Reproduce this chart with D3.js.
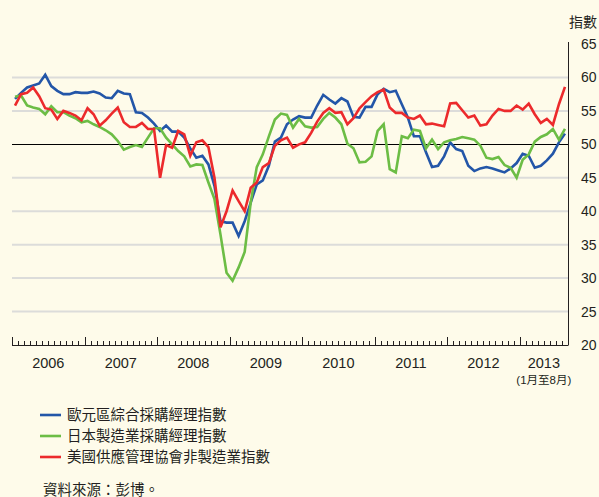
<!DOCTYPE html>
<html>
<head>
<meta charset="utf-8">
<script src="https://cdn.jsdelivr.net/npm/d3@7/dist/d3.min.js"></script>
<style>
  html, body { margin: 0; padding: 0; background: #fefbea; }
  svg { display: block; font-family: "Liberation Sans", Arial, "Noto Sans CJK TC", sans-serif; }
  .cjk { font-family: "Liberation Sans", "Noto Sans CJK TC", sans-serif; }
</style>
</head>
<body>
<svg id="chart" width="599" height="497"></svg>
<script>
// monthly, Jan 2006 - Aug 2013
var years = ["2006", "2007", "2008", "2009", "2010", "2011", "2012", "2013"];
var yTicks = [20, 25, 30, 35, 40, 45, 50, 55, 60, 65];

var euroPmi = [
	56.8, 57.7, 58.5, 58.8, 59.1, 60.4, 58.7, 58.0, 57.5, 57.5, 57.8, 57.7,
	57.7, 57.9, 57.6, 57.0, 56.9, 58.0, 57.6, 57.5, 54.8, 54.7, 54.0, 53.1,
	52.0, 52.8, 51.9, 51.9, 51.0, 49.4, 48.0, 48.3, 47.0, 43.8, 38.5, 38.3,
	38.3, 36.3, 38.5, 41.3, 44.0, 44.6, 46.8, 50.4, 51.0, 53.0, 53.7, 54.2,
	54.0, 54.0, 55.8, 57.4, 56.7, 56.1, 56.9, 56.4, 54.1, 54.0, 55.6, 55.6,
	57.5, 58.3, 57.8, 58.0, 56.0, 54.0, 51.2, 51.2, 48.8, 46.6, 46.8, 48.2,
	50.3, 49.3, 49.0, 46.8, 46.0, 46.4, 46.6, 46.4, 46.1, 45.8, 46.4, 47.2,
	48.6, 48.3, 46.5, 46.8, 47.6, 48.6, 50.3, 51.6
];
var japanPmi = [
	57.1, 57.3, 55.8, 55.5, 55.3, 54.5, 55.7, 54.8, 54.8, 54.3, 53.9, 53.3,
	53.5, 53.0, 52.6, 52.1, 51.5, 50.5, 49.2, 49.6, 49.9, 49.6, 51.0, 52.4,
	52.4, 51.0, 50.0, 49.0, 48.2, 46.7, 47.0, 46.9, 44.3, 41.8, 36.5, 30.8,
	29.6, 31.6, 33.9, 41.3, 46.6, 48.5, 51.2, 53.7, 54.6, 54.4, 52.5, 53.8,
	52.7, 52.5, 52.6, 53.8, 54.7, 54.0, 53.0, 50.1, 49.4, 47.3, 47.4, 48.2,
	52.0, 53.0, 46.3, 45.8, 51.2, 50.9, 52.2, 52.0, 49.4, 50.7, 49.3, 50.3,
	50.6, 50.8, 51.1, 50.9, 50.7, 49.8, 48.0, 47.8, 48.1, 46.9, 46.5, 45.0,
	47.7, 48.5, 50.4, 51.1, 51.5, 52.3, 50.7, 52.3
];
var usIsmNonMfg = [
	55.8, 57.5, 57.7, 58.5, 57.2, 55.4, 55.2, 53.8, 55.0, 54.7, 54.3, 53.6,
	55.4, 54.5, 52.8, 53.6, 54.6, 55.5, 53.3, 52.6, 52.6, 53.2, 52.3, 52.3,
	45.0, 49.9, 49.5, 52.0, 51.5, 48.3, 50.3, 50.6, 49.6, 45.0, 37.6, 40.0,
	43.1, 41.5, 40.0, 43.5, 44.3, 46.6, 47.2, 49.8, 50.6, 51.0, 49.5, 50.0,
	50.3, 51.7, 53.4, 54.7, 55.4, 54.7, 54.8, 53.0, 53.9, 55.4, 56.3, 57.2,
	57.8, 58.2, 55.5, 54.7, 54.7, 54.0, 53.8, 54.3, 53.0, 53.1, 52.9, 52.7,
	56.1, 56.2, 55.1, 54.0, 54.3, 52.8, 53.0, 54.3, 55.3, 55.0, 55.0, 55.8,
	55.2, 56.1, 54.5, 53.2, 53.8, 52.9, 56.0, 58.6
];

var seriesNames = ["歐元區綜合採購經理指數", "日本製造業採購經理指數", "美國供應管理協會非製造業指數"];
var seriesColors = ["#2356a8", "#6cbd45", "#ec2a2c"];
var allSeries = [euroPmi, japanPmi, usIsmNonMfg];

var nMonths = euroPmi.length; // 92

var svg = d3.select("#chart");
var plotLeft = 12, plotRight = 568, plotTop = 44, plotBottom = 345;

var x = d3.scaleLinear().domain([0, nMonths]).range([plotLeft, plotRight]);
var y = d3.scaleLinear().domain([20, 65]).range([plotBottom, plotTop]);

// gridlines
svg.append("g").selectAll("line")
	.data(yTicks.filter(function(d) { return d !== 20 && d !== 50 && d !== 65; }))
	.enter().append("line")
	.attr("x1", plotLeft).attr("x2", plotRight)
	.attr("y1", function(d) { return y(d); }).attr("y2", function(d) { return y(d); })
	.attr("stroke", "#dcdcda").attr("stroke-width", 2);

// right axis
var yAxis = d3.axisRight(y).tickValues(yTicks).tickSize(0).tickPadding(13);
var ya = svg.append("g").attr("transform", "translate(" + plotRight + ",0)").call(yAxis);
ya.select(".domain").attr("stroke", "#231f20").attr("d", "M0.5," + (plotTop - 2) + "V" + plotBottom);
ya.selectAll("text").attr("font-size", 14).attr("fill", "#231f20")
	.attr("font-family", "Liberation Sans, Arial, sans-serif");

svg.append("text").attr("class", "cjk")
	.attr("x", 583).attr("y", 27).attr("text-anchor", "middle")
	.attr("font-size", 14).attr("fill", "#231f20").text("指數");

// bottom axis with month ticks
var xg = svg.append("g");
xg.append("line").attr("x1", plotLeft).attr("x2", plotRight + 0.5)
	.attr("y1", plotBottom + 0.5).attr("y2", plotBottom + 0.5)
	.attr("stroke", "#231f20").attr("stroke-width", 1);
xg.selectAll("line.tick").data(d3.range(0, nMonths)).enter().append("line")
	.attr("class", "tick")
	.attr("x1", function(d) { return Math.round(x(d)) + 0.5; })
	.attr("x2", function(d) { return Math.round(x(d)) + 0.5; })
	.attr("y1", plotBottom)
	.attr("y2", function(d) { return d % 12 === 0 ? plotBottom - 8 : plotBottom - 4; })
	.attr("stroke", "#231f20").attr("stroke-width", 1);

xg.selectAll("text.year").data(years).enter().append("text")
	.attr("class", "year")
	.attr("x", function(d, i) {
		var s = i * 12, e = Math.min(s + 12, nMonths);
		return x((s + e) / 2);
	})
	.attr("y", 368).attr("text-anchor", "middle")
	.attr("font-size", 14.5).attr("fill", "#231f20").text(function(d) { return d; });

svg.append("text").attr("class", "cjk")
	.attr("x", x((84 + nMonths) / 2)).attr("y", 384).attr("text-anchor", "middle")
	.attr("font-size", 11.5).attr("fill", "#231f20").text("(1月至8月)");

// 50 reference line
svg.append("line").attr("x1", plotLeft).attr("x2", plotRight)
	.attr("y1", Math.round(y(50)) + 0.5).attr("y2", Math.round(y(50)) + 0.5)
	.attr("stroke", "#000").attr("stroke-width", 1.2);

// lines
var line = d3.line()
	.x(function(d, i) { return x(i + 0.5); })
	.y(function(d) { return y(d); });

allSeries.forEach(function(s, k) {
	svg.append("path").datum(s)
		.attr("fill", "none")
		.attr("stroke", seriesColors[k])
		.attr("stroke-width", 2.6)
		.attr("stroke-linejoin", "miter")
		.attr("d", line);
});

// legend
var legendY = [415, 436, 457];
var lg = svg.append("g").selectAll("g").data(seriesNames).enter().append("g")
	.attr("transform", function(d, i) { return "translate(0," + legendY[i] + ")"; });
lg.append("line").attr("x1", 40).attr("x2", 61).attr("y1", 0).attr("y2", 0)
	.attr("stroke", function(d, i) { return seriesColors[i]; }).attr("stroke-width", 2.6);
lg.append("text").attr("class", "cjk").attr("x", 67).attr("y", 5)
	.attr("font-size", 14.5).attr("fill", "#231f20").text(function(d) { return d; });

svg.append("text").attr("class", "cjk")
	.attr("x", 43).attr("y", 495).attr("font-size", 14.5).attr("fill", "#231f20")
	.text("資料來源：彭博。");
</script>
</body>
</html>
